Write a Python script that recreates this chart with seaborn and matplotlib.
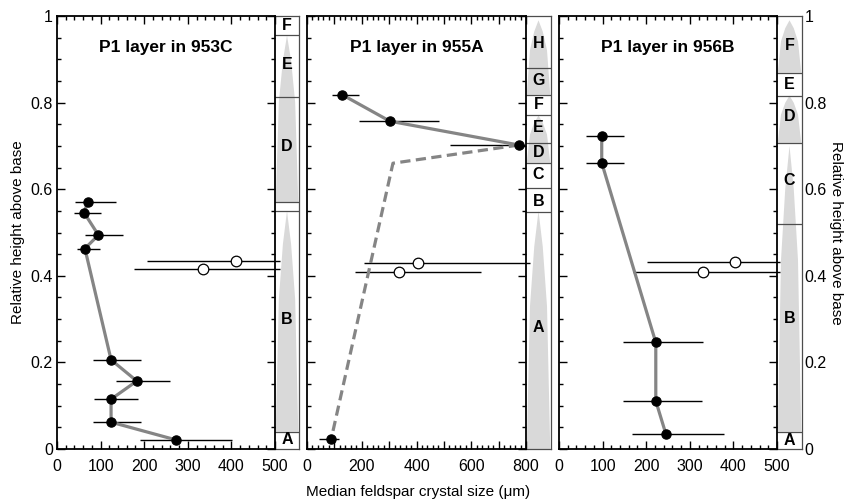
import numpy as np
import pandas as pd
import matplotlib
matplotlib.use("Agg")
import matplotlib.pyplot as plt
import seaborn as sns
from matplotlib.ticker import MultipleLocator, FuncFormatter

sns.set_style("ticks")
plt.rcParams['font.family'] = ['Liberation Sans', 'DejaVu Sans']
plt.rcParams['text.color'] = 'black'
plt.rcParams['axes.labelcolor'] = 'black'
plt.rcParams['xtick.color'] = 'black'
plt.rcParams['ytick.color'] = 'black'

# ---------------- data ----------------
# 953C
c953_size = [71, 62, 95, 64, 124, 183, 124, 124, 273]
c953_height = [0.571, 0.546, 0.494, 0.463, 0.206, 0.157, 0.115, 0.062, 0.021]
c953_lo = [41, 39, 64, 46, 82, 135, 86, 82, 190]
c953_hi = [135, 100, 151, 99, 192, 259, 186, 192, 402]
c953_open_size = [410, 336]
c953_open_height = [0.435, 0.415]
c953_open_lo = [206, 177]
c953_open_hi = [512, 511]

# 955A
a955_size = [129, 303, 774, 88]
a955_height = [0.818, 0.757, 0.702, 0.022]
a955_lo = [92, 191, 522, 45]
a955_hi = [190, 482, 795, 117]
a955_solid_size = [129, 303, 774]
a955_solid_height = [0.818, 0.757, 0.702]
a955_dash_size = [774, 314, 88]
a955_dash_height = [0.702, 0.660, 0.022]
a955_open_size = [407, 336]
a955_open_height = [0.429, 0.408]
a955_open_lo = [208, 175]
a955_open_hi = [814, 634]

# 956B
b956_size = [98, 98, 222, 222, 245]
b956_height = [0.723, 0.661, 0.246, 0.111, 0.035]
b956_lo = [62, 62, 147, 147, 167]
b956_hi = [150, 150, 331, 329, 378]
b956_open_size = [404, 331]
b956_open_height = [0.432, 0.409]
b956_open_lo = [201, 170]
b956_open_hi = [508, 508]

# layer strips
c953_bounds = [0.04, 0.55, 0.57, 0.814, 0.955]
c953_labels = ["A", "B", "D", "E", "F"]
c953_label_y = [0.021, 0.298, 0.698, 0.887, 0.977]
c953_wedges = [(0.04, 0.55), (0.57, 0.955)]

a955_bounds = [0.548, 0.602, 0.661, 0.706, 0.771, 0.818, 0.879]
a955_labels = ["A", "B", "C", "D", "E", "F", "G", "H"]
a955_label_y = [0.281, 0.571, 0.634, 0.684, 0.742, 0.796, 0.85, 0.937]
a955_wedges = [(0.0, 0.55), (0.661, 0.77), (0.818, 0.99)]

b956_bounds = [0.04, 0.52, 0.707, 0.816, 0.869]
b956_labels = ["A", "B", "C", "D", "E", "F"]
b956_label_y = [0.019, 0.302, 0.621, 0.769, 0.841, 0.933]
b956_wedges = [(0.04, 0.70), (0.707, 0.816), (0.869, 0.99)]

titles = ["P1 layer in 953C", "P1 layer in 955A", "P1 layer in 956B"]

# ---------------- figure ----------------
W, H = 858, 503
fig = plt.figure(figsize=(W / 100, H / 100), dpi=100)

def fx(px):
    return px / W

bottom = 1 - 449 / H
height = 433 / H

main_px = [(57, 275), (307, 526), (559, 777)]
strip_px = [(275, 299), (526, 551), (777, 802)]

GREY_LINE = "#858585"
WEDGE = "#d9d9d9"
STRIP_LINE = "#4d4d4d"
TICK_FS = 11.5
LAYER_FS = 11.5
WEDGE_FRAC = [0.0, 0.6, 0.85, 1.0]
WEDGE_HALF = [0.47, 0.34, 0.17, 0.0]


def draw_main(ax, xmax, xmajor, labstep, title):
    ax.set_xlim(0, xmax)
    ax.set_ylim(0, 1)
    ax.xaxis.set_major_locator(MultipleLocator(xmajor))
    ax.xaxis.set_minor_locator(MultipleLocator(20))
    ax.xaxis.set_major_formatter(FuncFormatter(
        lambda v, p: f"{int(round(v))}" if round(v) % labstep == 0 else ""))
    ax.yaxis.set_major_locator(MultipleLocator(0.2))
    ax.yaxis.set_minor_locator(MultipleLocator(0.05))
    ax.yaxis.set_major_formatter(FuncFormatter(
        lambda v, p: "0" if abs(v) < 1e-9 else ("1" if abs(v - 1) < 1e-9 else f"{v:.1f}")))
    ax.tick_params(which="both", direction="in", top=True, right=True,
                   color="black", labelcolor="black", width=1.0)
    ax.tick_params(which="major", length=5.5, labelsize=TICK_FS, pad=3)
    ax.tick_params(which="minor", length=3)
    ax.tick_params(axis="x", which="major", pad=7)
    for s in ax.spines.values():
        s.set_linewidth(1.3)
        s.set_color("black")
    ax.text(0.5, 0.927, title, transform=ax.transAxes, ha="center", va="center",
            fontsize=12.5, fontweight="bold", color="black")
    ax.set_xlabel("")
    ax.set_ylabel("")
    ax.set_zorder(3)
    ax.patch.set_alpha(0)


def draw_points(ax, size, hgt, lo, hi, filled=True):
    ax.hlines(hgt, lo, hi, color="black", lw=1.0, zorder=4, clip_on=False)
    df = pd.DataFrame({"size": size, "height": hgt})
    if filled:
        sns.scatterplot(data=df, x="size", y="height", ax=ax, color="black",
                        edgecolor="black", s=45, linewidth=0.8, zorder=6, clip_on=False)
    else:
        sns.scatterplot(data=df, x="size", y="height", ax=ax, color="white",
                        edgecolor="black", s=58, linewidth=0.9, zorder=6, clip_on=False)


def draw_path(ax, size, hgt, dashed=False):
    df = pd.DataFrame({"size": size, "height": hgt})
    sns.lineplot(data=df, x="size", y="height", ax=ax, sort=False, estimator=None,
                 color=GREY_LINE, lw=2.3, zorder=5,
                 linestyle="--" if dashed else "-")
    if dashed:
        ax.lines[-1].set_dashes((3.2, 1.7))
    ax.set_xlabel("")
    ax.set_ylabel("")


def draw_strip(ax, bounds, labels, label_y, wedges):
    ax.set_xlim(0, 1)
    ax.set_ylim(0, 1)
    ax.set_xticks([])
    ax.set_yticks([])
    for b, t in wedges:
        ys = [b + f * (t - b) for f in WEDGE_FRAC]
        px = [0.5 - h for h in WEDGE_HALF] + [0.5 + h for h in WEDGE_HALF[::-1]]
        py = ys + ys[::-1]
        ax.fill(px, py, color=WEDGE, lw=0, zorder=1)
    for b in bounds:
        ax.axhline(b, color=STRIP_LINE, lw=0.9, zorder=2)
    for lab, y in zip(labels, label_y):
        ax.text(0.5, y, lab, ha="center", va="center", fontsize=LAYER_FS,
                fontweight="bold", color="black", zorder=3)
    for s in ax.spines.values():
        s.set_linewidth(0.9)
        s.set_color(STRIP_LINE)
    ax.spines["left"].set_visible(False)
    ax.set_zorder(1)


axes = []
strips = []
for (l, r), (sl, sr) in zip(main_px, strip_px):
    axes.append(fig.add_axes([fx(l), bottom, fx(r - l), height]))
    strips.append(fig.add_axes([fx(sl), bottom, fx(sr - sl), height]))

# Panel 1: 953C
ax = axes[0]
draw_path(ax, c953_size, c953_height)
draw_points(ax, c953_size, c953_height, c953_lo, c953_hi, True)
draw_points(ax, c953_open_size, c953_open_height, c953_open_lo, c953_open_hi, False)
draw_main(ax, 500, 100, 100, titles[0])
draw_strip(strips[0], c953_bounds, c953_labels, c953_label_y, c953_wedges)

# Panel 2: 955A
ax = axes[1]
draw_path(ax, a955_solid_size, a955_solid_height)
draw_path(ax, a955_dash_size, a955_dash_height, dashed=True)
draw_points(ax, a955_size, a955_height, a955_lo, a955_hi, True)
draw_points(ax, a955_open_size, a955_open_height, a955_open_lo, a955_open_hi, False)
draw_main(ax, 800, 100, 200, titles[1])
ax.tick_params(axis="y", labelleft=False)
draw_strip(strips[1], a955_bounds, a955_labels, a955_label_y, a955_wedges)

# Panel 3: 956B
ax = axes[2]
draw_path(ax, b956_size, b956_height)
draw_points(ax, b956_size, b956_height, b956_lo, b956_hi, True)
draw_points(ax, b956_open_size, b956_open_height, b956_open_lo, b956_open_hi, False)
draw_main(ax, 500, 100, 100, titles[2])
ax.tick_params(axis="y", labelleft=False)
draw_strip(strips[2], b956_bounds, b956_labels, b956_label_y, b956_wedges)

# right-hand axis labels on the last strip
s3 = strips[2]
s3.yaxis.tick_right()
s3.set_yticks([0, 0.2, 0.4, 0.6, 0.8, 1.0])
s3.set_yticklabels(["0", "0.2", "0.4", "0.6", "0.8", "1"])
s3.tick_params(axis="y", length=0, pad=2, labelsize=TICK_FS, labelcolor="black")

for a in axes:
    if a.get_legend():
        a.get_legend().remove()

fig.text(fx(18), bottom + height / 2, "Relative height above base", rotation=90,
         ha="center", va="center", fontsize=11, color="black")
fig.text(fx(836), bottom + height / 2, "Relative height above base", rotation=270,
         ha="center", va="center", fontsize=11, color="black")
fig.text(fx(418), 1 - 492 / H, "Median feldspar crystal size (\u03bcm)",
         ha="center", va="center", fontsize=11, color="black")

fig.savefig("out.png", dpi=100)
